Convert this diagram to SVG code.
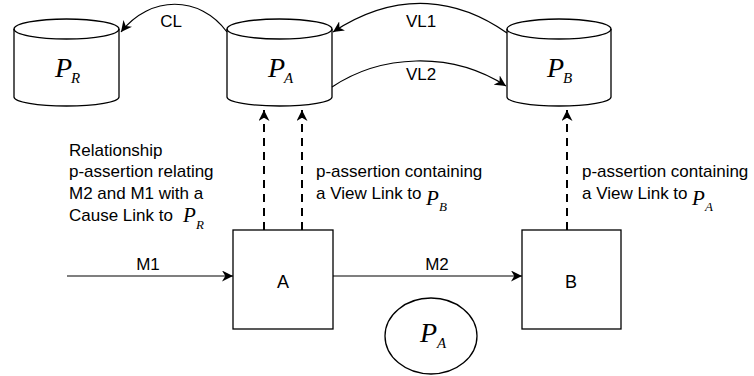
<svg xmlns="http://www.w3.org/2000/svg" width="754" height="376" viewBox="0 0 754 376">
<style>
.s{fill:#fff;stroke:#000;stroke-width:1.3}
.e{fill:none;stroke:#000;stroke-width:1.3}
.l{fill:none;stroke:#000;stroke-width:1.2}
.d{fill:none;stroke:#000;stroke-width:2;stroke-dasharray:8 6}
.t{font-family:"Liberation Sans",Arial,sans-serif;font-size:17px;fill:#000}
.c{font-family:"Liberation Sans",Arial,sans-serif;font-size:18px;fill:#000;text-anchor:middle}
.p{font-family:"Liberation Serif","Times New Roman",serif;font-style:italic;fill:#000}
</style>
<defs>
<marker id="ar" viewBox="0 0 10 10" refX="10" refY="5" markerWidth="11" markerHeight="11" markerUnits="userSpaceOnUse" orient="auto">
<path d="M0,0 L10,5 L0,10 L3,5 z" fill="#000"/>
</marker>
</defs>
<g id="cylR">
<path class="s" d="M14,29 A52.5,10 0 0 1 119,29 L119,97 A52.5,9 0 0 1 14,97 Z"/>
<path class="e" d="M14,29 A52.5,10 0 0 0 119,29"/>
<text class="p" x="55" y="77" font-size="28">P</text><text class="p" x="71" y="83" font-size="15">R</text>
</g>
<g id="cylA">
<path class="s" d="M227,29 A52.5,10 0 0 1 332,29 L332,97 A52.5,9 0 0 1 227,97 Z"/>
<path class="e" d="M227,29 A52.5,10 0 0 0 332,29"/>
<text class="p" x="268" y="77" font-size="28">P</text><text class="p" x="284" y="83" font-size="15">A</text>
</g>
<g id="cylB">
<path class="s" d="M507,29 A52,10 0 0 1 611,29 L611,97 A52,9 0 0 1 507,97 Z"/>
<path class="e" d="M507,29 A52,10 0 0 0 611,29"/>
<text class="p" x="547" y="77" font-size="28">P</text><text class="p" x="563" y="83" font-size="15">B</text>
</g>
<g id="boxA">
<rect class="s" x="233" y="230" width="100" height="99"/>
<text class="c" x="283" y="288">A</text>
</g>
<g id="boxB">
<rect class="s" x="522" y="230" width="99" height="99"/>
<text class="c" x="571" y="288">B</text>
</g>
<g id="ellA">
<ellipse class="s" cx="431" cy="336" rx="46" ry="38"/>
<text class="p" x="420" y="342" font-size="28">P</text><text class="p" x="437" y="348" font-size="15">A</text>
</g>
<g id="connectors">
<path class="l" d="M227,32 C200,-5 150,-5 121,32" marker-end="url(#ar)"/>
<path class="l" d="M507,33 C460,0 400,-12 333,32" marker-end="url(#ar)"/>
<path class="l" d="M332,87 C380,55 450,50 506,86" marker-end="url(#ar)"/>
<path class="l" d="M67,276 L233,276" marker-end="url(#ar)"/>
<path class="l" d="M333,276 L522,276" marker-end="url(#ar)"/>
<path class="d" d="M264,230 L264,110" marker-end="url(#ar)"/>
<path class="d" d="M302,230 L302,110" marker-end="url(#ar)"/>
<path class="d" d="M567,230 L567,110" marker-end="url(#ar)"/>
</g>
<g id="labels">
<text class="t" x="171" y="27" text-anchor="middle">CL</text>
<text class="t" x="421" y="27" text-anchor="middle">VL1</text>
<text class="t" x="421" y="80" text-anchor="middle">VL2</text>
<text class="t" x="148" y="270" text-anchor="middle">M1</text>
<text class="t" x="437" y="270" text-anchor="middle">M2</text>
<text class="t" x="69" y="156">Relationship</text>
<text class="t" x="69" y="177">p-assertion relating</text>
<text class="t" x="69" y="199">M2 and M1 with a</text>
<text class="t" x="69" y="221">Cause Link to</text>
<text class="p" x="183" y="222" font-size="21">P</text><text class="p" x="196" y="229" font-size="13">R</text>
<text class="t" x="316" y="177">p-assertion containing</text>
<text class="t" x="316" y="199">a View Link to</text>
<text class="p" x="426" y="205" font-size="21">P</text><text class="p" x="439" y="211" font-size="13">B</text>
<text class="t" x="582" y="177">p-assertion containing</text>
<text class="t" x="582" y="199">a View Link to</text>
<text class="p" x="692" y="205" font-size="21">P</text><text class="p" x="705" y="211" font-size="13">A</text>
</g>
</svg>
